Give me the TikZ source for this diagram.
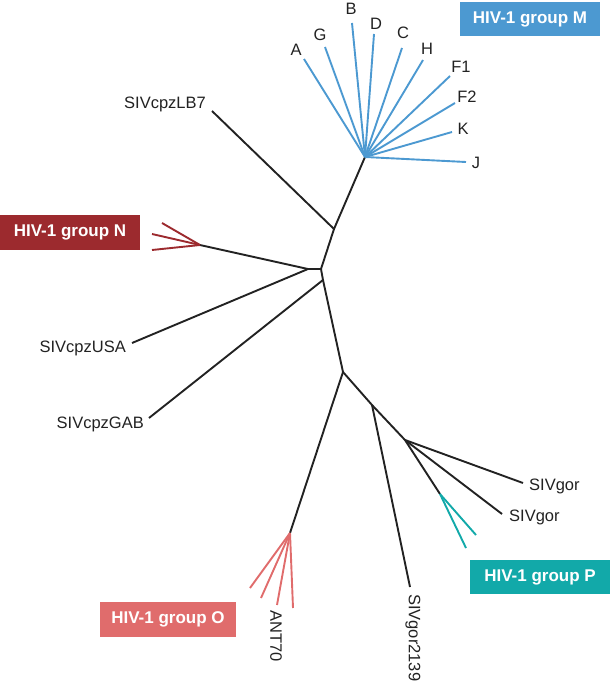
\documentclass[tikz,border=0pt]{standalone}
\usepackage{fontspec}
\setmainfont{Liberation Sans}
\definecolor{mblue}{HTML}{4C99D1}
\definecolor{nred}{HTML}{9C2A2E}
\definecolor{ored}{HTML}{E06C6C}
\definecolor{pteal}{HTML}{12A9A9}
\definecolor{ink}{HTML}{222222}
\begin{document}
\begin{tikzpicture}[x=1pt,y=-1pt,
  br/.style={draw=ink,line width=1.9pt},
  mbr/.style={draw=mblue,line width=1.9pt},
  nbr/.style={draw=nred,line width=1.9pt},
  obr/.style={draw=ored,line width=1.9pt},
  pbr/.style={draw=pteal,line width=1.9pt},
  lab/.style={font=\fontsize{16.5}{18}\selectfont,text=ink,inner sep=0pt},
  grp/.style={font=\bfseries\fontsize{17}{19}\selectfont,text=white,inner sep=0pt,minimum height=34pt}]
\useasboundingbox (0,0) rectangle (610,685);
% internal nodes
\coordinate (mhub) at (365,157);
\coordinate (n1) at (334,229);
\coordinate (n2) at (321,269);
\coordinate (nn) at (308,269);
\coordinate (n3) at (323,280);
\coordinate (n4) at (343,372);
\coordinate (n5) at (372,405);
\coordinate (n6) at (405,440);
\coordinate (phub) at (440,494);
\coordinate (ohub) at (290,533);
\coordinate (nhub) at (200,245);
% leaf ends
\coordinate (lA) at (304,59);
\coordinate (lG) at (325,47);
\coordinate (lB) at (352,23);
\coordinate (lD) at (374,34);
\coordinate (lC) at (402,48);
\coordinate (lH) at (423,60);
\coordinate (lF1) at (450,76);
\coordinate (lF2) at (455,103);
\coordinate (lK) at (452,132);
\coordinate (lJ) at (466,162);
\coordinate (lLB7) at (212,111);
\coordinate (lUSA) at (132,343);
\coordinate (lGAB) at (149,418);
\coordinate (lN1) at (162,223);
\coordinate (lN2) at (152,234);
\coordinate (lN3) at (152,250);
\coordinate (lO1) at (250,588);
\coordinate (lO2) at (261,598);
\coordinate (lO3) at (277,605);
\coordinate (lO4) at (293,608);
\coordinate (l2139) at (410,587);
\coordinate (lgor1) at (523,483);
\coordinate (lgor2) at (502,514);
\coordinate (lP1) at (476,535);
\coordinate (lP2) at (466,548);
% black branches
\draw[br,line join=round] (mhub) -- (n1) -- (n2) -- (nn);
\draw[br] (n1) -- (lLB7);
\draw[br] (nn) -- (nhub);
\draw[br] (nn) -- (lUSA);
\draw[br,line join=round] (n2) -- (n3) -- (n4);
\draw[br] (n3) -- (lGAB);
\draw[br] (n4) -- (ohub);
\draw[br,line join=round] (n4) -- (n5) -- (n6);
\draw[br] (n5) -- (l2139);
\draw[br] (n6) -- (lgor1);
\draw[br] (n6) -- (lgor2);
\draw[br] (n6) -- (phub);
% coloured clades
\foreach \l in {lA,lG,lB,lD,lC,lH,lF1,lF2,lK,lJ} \draw[mbr] (mhub) -- (\l);
\foreach \l in {lN1,lN2,lN3} \draw[nbr] (nhub) -- (\l);
\foreach \l in {lO1,lO2,lO3,lO4} \draw[obr] (ohub) -- (\l);
\foreach \l in {lP1,lP2} \draw[pbr] (phub) -- (\l);
% labels
\node[lab] (tA) at (296,50) {A};
\node[lab] (tG) at (320,35) {G};
\node[lab] (tB) at (351,9) {B};
\node[lab] (tD) at (376,24) {D};
\node[lab] (tC) at (403,33) {C};
\node[lab] (tH) at (427,49) {H};
\node[lab] (tF1) at (461,67) {F1};
\node[lab] (tF2) at (467,97) {F2};
\node[lab] (tK) at (463,129) {K};
\node[lab] (tJ) at (476,163) {J};
\node[lab,anchor=east] (tLB7) at (206,104) {SIVcpzLB7};
\node[lab,anchor=east] (tUSA) at (126,348) {SIVcpzUSA};
\node[lab,anchor=east] (tGAB) at (144,424) {SIVcpzGAB};
\node[lab,anchor=west] (tgor1) at (529,486) {SIVgor};
\node[lab,anchor=west] (tgor2) at (509,517) {SIVgor};
\node[lab,anchor=west,rotate=-90] (t2139) at (413,594) {SIVgor2139};
\node[lab,anchor=west,rotate=-90] (tANT) at (276,610) {ANT70};
% group boxes
\node[grp,fill=mblue,minimum width=140pt] (gM) at (530,19) {HIV-1 group M};
\node[grp,fill=nred,minimum width=140pt,minimum height=35pt] (gN) at (70,232.5) {HIV-1 group N};
\node[grp,fill=ored,minimum width=136pt,minimum height=35pt] (gO) at (168,619.5) {HIV-1 group O};
\node[grp,fill=pteal,minimum width=140pt] (gP) at (540,577) {HIV-1 group P};
\end{tikzpicture}
\end{document}
